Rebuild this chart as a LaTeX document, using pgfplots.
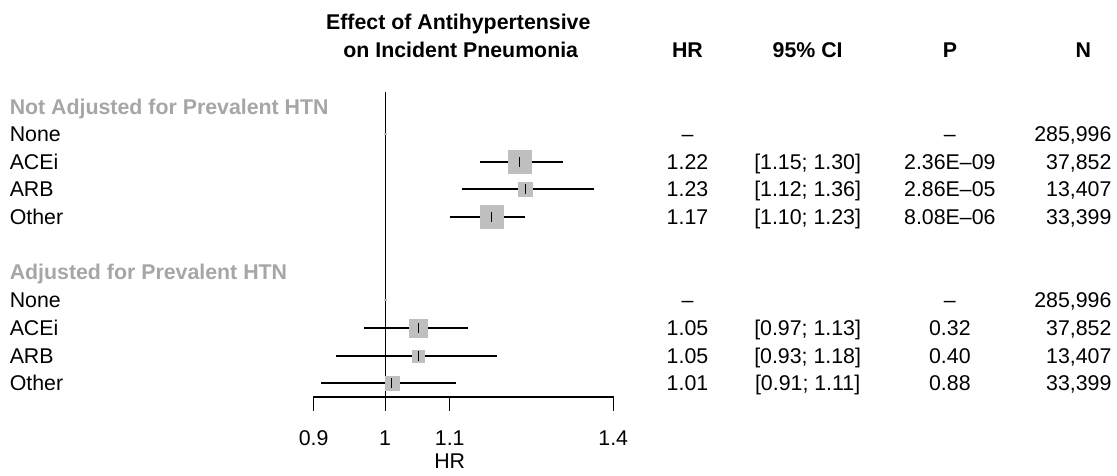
\documentclass[border=0pt]{standalone}
\usepackage{pgfplots}
\pgfplotsset{compat=1.18}
\usepackage{fontspec}
\setmainfont{Liberation Sans}
\newcommand\fs{\fontsize{16pt}{19pt}\selectfont}
\newcommand\row[5]{%
  \node at (axis cs:1.562,-#1) {#2};
  \node at (axis cs:1.865,-#1) {#3};
  \node at (axis cs:2.30,-#1) {#4};
  \node[anchor=east] at (axis cs:2.92,-#1) {#5};}
\newcommand\lab[2]{\node[anchor=west] at (axis cs:0.5747,-#1) {#2};}
\begin{document}
\begin{tikzpicture}[every node/.style={font=\fs, inner sep=0pt, text height=11.5pt, text depth=0pt}]
\begin{axis}[xmode=log, xmin=0.5667, xmax=2.943, ymin=-475, ymax=0,
  width=837.75pt, height=356.25pt, scale only axis, hide axis, clip=false]
% reference line at 1
\addplot[black, line width=0.8pt] coordinates {(1,-92) (1,-397)};
% CIs
\addplot[black, line width=0.8pt] coordinates {(1.15,-162) (1.30,-162)};
\addplot[black, line width=0.8pt] coordinates {(1.12,-189) (1.36,-189)};
\addplot[black, line width=0.8pt] coordinates {(1.10,-217) (1.23,-217)};
\addplot[black, line width=0.8pt] coordinates {(0.97,-328) (1.13,-328)};
\addplot[black, line width=0.8pt] coordinates {(0.93,-356) (1.18,-356)};
\addplot[black, line width=0.8pt] coordinates {(0.91,-383) (1.11,-383)};
% squares
\addplot[only marks, mark=square*, mark size=8.6pt, color=black!25] coordinates {(1.22,-162)};
\addplot[only marks, mark=square*, mark size=5.3pt, color=black!25] coordinates {(1.23,-189)};
\addplot[only marks, mark=square*, mark size=8.6pt, color=black!25] coordinates {(1.17,-217)};
\addplot[only marks, mark=square*, mark size=6.75pt, color=black!25] coordinates {(1.05,-328)};
\addplot[only marks, mark=square*, mark size=4.5pt, color=black!25] coordinates {(1.05,-356)};
\addplot[only marks, mark=square*, mark size=5.25pt, color=black!25] coordinates {(1.01,-383)};
\addplot[only marks, mark=square*, mark size=0.5pt, color=black!25] coordinates {(1,-134) (1,-300)};
% centre ticks
\addplot[only marks, mark=|, mark size=3.5pt, black, mark options={line width=0.7pt}] coordinates {(1.22,-162) (1.23,-189) (1.17,-217) (1.05,-328) (1.05,-356) (1.01,-383)};
% x axis
\draw[line width=0.8pt] (axis cs:0.9,-411) -- (axis cs:0.9,-397) -- (axis cs:1.4,-397) -- (axis cs:1.4,-411);
\draw[line width=0.8pt] (axis cs:1,-397) -- (axis cs:1,-411);
\draw[line width=0.8pt] (axis cs:1.1,-397) -- (axis cs:1.1,-411);
\node at (axis cs:0.9,-438) {0.9};
\node at (axis cs:1,-438) {1};
\node at (axis cs:1.1,-438) {1.1};
\node at (axis cs:1.4,-438) {1.4};
\node at (axis cs:1.1,-461) {HR};
% title and headers
\node[font=\fs\bfseries] at (axis cs:1.114,-22) {Effect of Antihypertensive};
\node[font=\fs\bfseries] at (axis cs:1.118,-50) {on Incident Pneumonia};
\node[font=\fs\bfseries] at (axis cs:1.562,-50) {HR};
\node[font=\fs\bfseries] at (axis cs:1.865,-50) {95\% CI};
\node[font=\fs\bfseries] at (axis cs:2.30,-50) {P};
\node[font=\fs\bfseries] at (axis cs:2.80,-50) {N};
% left labels
\node[anchor=west, font=\fs\bfseries, text=black!35] at (axis cs:0.5747,-107) {Not Adjusted for Prevalent HTN};
\node[anchor=west, font=\fs\bfseries, text=black!35] at (axis cs:0.5747,-272) {Adjusted for Prevalent HTN};
\lab{134}{None}\lab{162}{ACEi}\lab{189}{ARB}\lab{217}{Other}
\lab{300}{None}\lab{328}{ACEi}\lab{356}{ARB}\lab{383}{Other}
% table
\row{134}{--}{}{--}{285,996}
\row{162}{1.22}{[1.15; 1.30]}{2.36E--09}{37,852}
\row{189}{1.23}{[1.12; 1.36]}{2.86E--05}{13,407}
\row{217}{1.17}{[1.10; 1.23]}{8.08E--06}{33,399}
\row{300}{--}{}{--}{285,996}
\row{328}{1.05}{[0.97; 1.13]}{0.32}{37,852}
\row{356}{1.05}{[0.93; 1.18]}{0.40}{13,407}
\row{383}{1.01}{[0.91; 1.11]}{0.88}{33,399}
\end{axis}
\pgfresetboundingbox
\useasboundingbox (current axis.south west) rectangle (current axis.north east);
\end{tikzpicture}
\end{document}
